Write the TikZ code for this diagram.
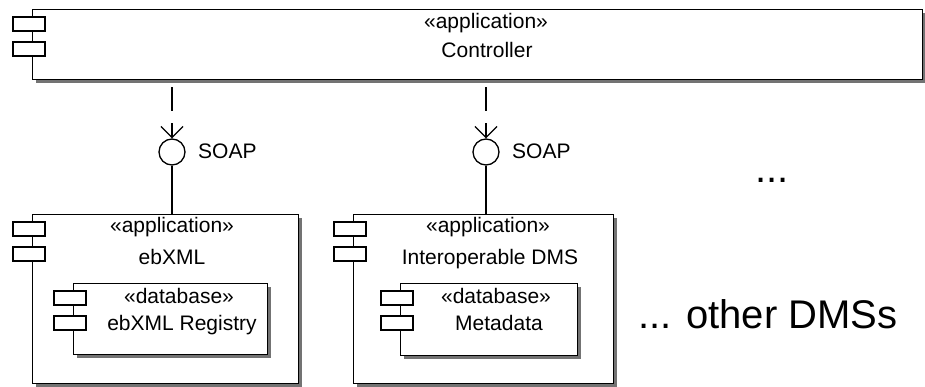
\documentclass[tikz,border=0pt]{standalone}
\usepackage{fontspec}
\setmainfont{Liberation Sans}
\usetikzlibrary{arrows.meta,shadows}
\tikzset{
  compbox/.style={draw=black, line width=1.3pt, fill=white, rectangle, inner sep=0pt,
    anchor=north west,
    drop shadow={shadow xshift=3pt, shadow yshift=-3pt, fill=black!55, opacity=1}},
  iconrect/.style={draw=black, fill=white, line width=1.3pt},
  iface/.style={draw=black, circle, line width=1.3pt, fill=white, inner sep=0pt, minimum size=26pt},
  lbl/.style={inner sep=0pt, font=\fontsize{21pt}{25pt}\selectfont, anchor=base},
  biglbl/.style={inner sep=0pt, font=\fontsize{40pt}{48pt}\selectfont, anchor=base west},
  depline/.style={line width=1.3pt, dash pattern=on 24pt off 12pt, dash phase=29pt,
    -{Straight Barb[length=11pt,width=22pt,line width=1.3pt]}},
  conn/.style={line width=1.3pt}
}
\newcommand\compicons[1]{%
  \draw[iconrect] ([shift={(-19pt,-8pt)}]#1.north west) rectangle ++(32pt,-14pt);
  \draw[iconrect] ([shift={(-19pt,-33pt)}]#1.north west) rectangle ++(32pt,-14pt);}
\begin{document}
\begin{tikzpicture}[x=1pt,y=-1pt]
\useasboundingbox[fill=white] (0,0) rectangle (925,387);

% Controller
\node[compbox, minimum width=890pt, minimum height=70pt] (ctrl) at (32,9) {};
\compicons{ctrl}
\node[lbl] (ctrlst) at (486,29) {«application»};
\node[lbl] (ctrlname) at (487,58) {Controller};

% ebXML
\node[compbox, minimum width=266pt, minimum height=169pt] (ebxml) at (32,214) {};
\compicons{ebxml}
\node[lbl] (ebst) at (172,233) {«application»};
\node[lbl] (ebname) at (172,264) {ebXML};
\node[compbox, minimum width=194pt, minimum height=71pt] (reg) at (73,283) {};
\compicons{reg}
\node[lbl] (regst) at (179,303) {«database»};
\node[lbl] (regname) at (182,330) {ebXML Registry};

% Interoperable DMS
\node[compbox, minimum width=260pt, minimum height=169pt] (idms) at (353,214) {};
\compicons{idms}
\node[lbl] (idst) at (488,233) {«application»};
\node[lbl] (idname) at (490,264) {Interoperable DMS};
\node[compbox, minimum width=177pt, minimum height=72pt] (meta) at (400,283) {};
\compicons{meta}
\node[lbl] (metast) at (496,303) {«database»};
\node[lbl] (metaname) at (499,330) {Metadata};

% interfaces
\node[iface] (i1) at (172,152) {};
\node[iface] (i2) at (486,152) {};
\node[lbl, anchor=base west] (soap1) at (198,159) {SOAP};
\node[lbl, anchor=base west] (soap2) at (512,159) {SOAP};

\draw[depline] (ctrl.south -| i1.north) -- (i1.north);
\draw[depline] (ctrl.south -| i2.north) -- (i2.north);
\draw[conn] (i1.south) -- (i1.south |- ebxml.north);
\draw[conn] (i2.south) -- (i2.south |- idms.north);

% others
\node[biglbl] (dots) at (755,183) {...};
\node[biglbl] (others) at (638,328) {... other DMSs};
\end{tikzpicture}
\end{document}
